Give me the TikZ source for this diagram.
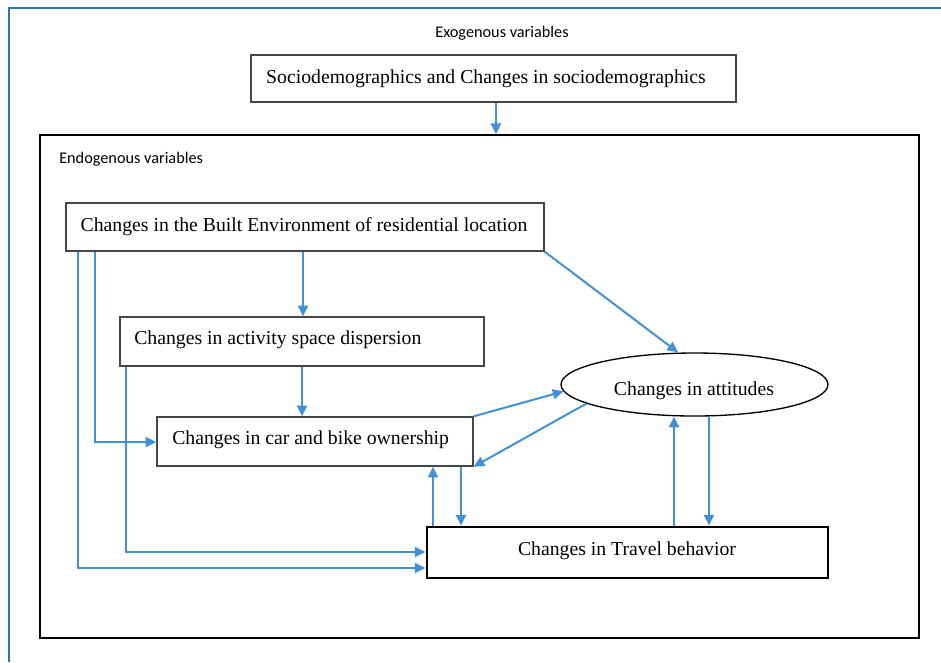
\documentclass[tikz,border=0pt]{standalone}
\usepackage{fontspec}
\setmainfont{Liberation Serif}
\newfontfamily\calib{Carlito}
\usetikzlibrary{arrows.meta,shapes.geometric,calc}
\definecolor{arrblue}{RGB}{66,144,214}
\definecolor{frameblue}{RGB}{46,112,176}
\definecolor{boxgray}{RGB}{70,70,70}
\tikzset{
  box/.style={draw=boxgray,line width=1pt,rectangle,inner sep=0pt},
  txt/.style={font=\fontsize{14.8}{17}\selectfont,inner sep=0pt},
  lbl/.style={font=\calib\fontsize{12.2}{14}\selectfont,inner sep=0pt},
  arr/.style={draw=arrblue,line width=1.5pt,-{Triangle[length=8pt,width=7.5pt]}}
}
\begin{document}
\begin{tikzpicture}[x=0.75pt,y=-0.75pt]
\useasboundingbox (0,0) rectangle (941,662);
% outer frame
\draw[frameblue,line width=1.5pt] (9,662) -- (9,8) -- (941,8);
% exogenous
\node[lbl] (exo) at (502,33) {Exogenous variables};
\node[box,minimum width=485*0.75pt,minimum height=47*0.75pt] (socio) at (493.5,78.5) {};
\node[txt] (sociot) at (486,78.5) {Sociodemographics and Changes in sociodemographics};
% endogenous frame
\node[draw=black,line width=1.3pt,rectangle,inner sep=0pt,minimum width=879*0.75pt,minimum height=503*0.75pt] (endo) at (479.5,386.5) {};
\node[lbl,anchor=west] (endol) at (59,159) {Endogenous variables};
% boxes
\node[box,minimum width=478*0.75pt,minimum height=48*0.75pt] (be) at (305,227) {};
\node[txt] (bet) at (304,226.5) {Changes in the Built Environment of residential location};
\node[box,minimum width=364*0.75pt,minimum height=49*0.75pt] (act) at (302,341.5) {};
\node[txt,anchor=west] (actt) at (134,339.5) {Changes in activity space dispersion};
\node[box,minimum width=316*0.75pt,minimum height=49*0.75pt] (car) at (315,441.5) {};
\node[txt,anchor=west] (cart) at (172,439.5) {Changes in car and bike ownership};
\node[draw=black,line width=1pt,ellipse,inner sep=0pt,minimum width=267*0.75pt,minimum height=63*0.75pt] (att) at (694.5,384.5) {};
\node[txt] (attt) at (694,390.5) {Changes in attitudes};
\node[draw=black,line width=2.2pt,rectangle,inner sep=0pt,minimum width=401*0.75pt,minimum height=51*0.75pt] (trav) at (627.5,552.5) {};
\node[txt] (travt) at (627,550.5) {Changes in Travel behavior};
% arrows
\draw[arr] (496,0 |- socio.south) -- (496,0 |- endo.north);
\draw[arr] (303,0 |- be.south) -- (303,0 |- act.north);
\draw[arr] (be.south east) -- (att.north -| 678,0);
\draw[arr] (302,0 |- act.south) -- (302,0 |- car.north);
\draw[arr] (78,0 |- be.south) |- (trav.west |- 0,568);
\draw[arr] (95,0 |- be.south) |- (car.west |- 0,442);
\draw[arr] (126,0 |- act.south) |- (trav.west |- 0,552);
\draw[arr] (car.north east) -- (att.183);
\draw[arr] (att.190) -- (car.south east);
\draw[arr] (433,0 |- trav.north) -- (433,0 |- car.south);
\draw[arr] (461,0 |- car.south) -- (461,0 |- trav.north);
\draw[arr] (674,0 |- trav.north) -- (674,0 |- att.south);
\draw[arr] (709,0 |- att.south) -- (709,0 |- trav.north);
\end{tikzpicture}
\end{document}
